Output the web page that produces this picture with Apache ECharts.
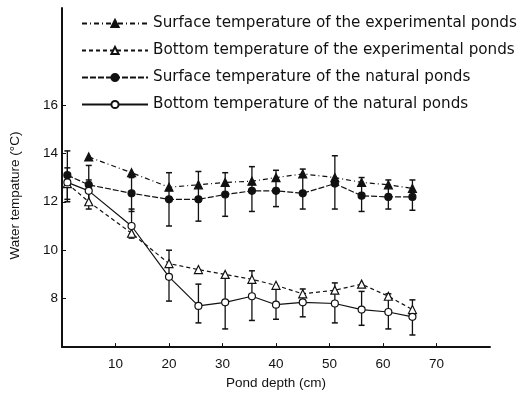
<!DOCTYPE html>
<html>
<head>
<meta charset="utf-8">
<script src="https://cdn.jsdelivr.net/npm/echarts@6/dist/echarts.min.js"></script>
<style>
  html, body { margin: 0; padding: 0; background: #fff; }
  #chart { width: 531px; height: 395px; }
</style>
</head>
<body>
<div id="chart"></div>
<script>
// pond depth (cm) of each sampling point
const depths = [1, 5, 13, 20, 25.5, 30.5, 35.5, 40, 45, 51, 56, 61, 65.5]

// water temperature (°C)
const surfaceExp = [null, 13.85, 13.2, 12.6, 12.7, 12.8, 12.85, 13.0, 13.15, 13.0, 12.8, 12.7, 12.55]
const bottomExp = [12.75, 12.0, 10.7, 9.45, 9.2, 9.0, 8.8, 8.55, 8.2, 8.35, 8.6, 8.1, 7.55]
const surfaceNat = [13.1, 12.7, 12.35, 12.1, 12.1, 12.3, 12.45, 12.45, 12.35, 12.75, 12.25, 12.2, 12.2]
const bottomNat = [12.8, 12.45, 11.0, 8.9, 7.7, 7.85, 8.1, 7.75, 7.85, 7.8, 7.55, 7.45, 7.25]

// error bar ends (low / high)
const surfaceNatLow = [12.0, 11.9, 11.6, 11.0, 11.2, 11.4, 11.6, 11.8, 11.7, 11.7, 11.6, 11.7, 11.65]
const surfaceNatHigh = [14.1, 13.5, 13.0, 13.2, 13.25, 13.2, 13.45, 13.3, 13.35, 13.9, 13.0, 12.9, 12.9]
const bottomNatLow = [12.1, 11.7, 10.5, 7.9, 7.0, 6.75, 7.1, 7.15, 7.25, 7.0, 6.9, 6.75, 6.5]
const bottomNatHigh = [13.4, 12.9, 11.7, 10.0, 8.6, 8.85, 9.15, 8.5, 8.4, 8.65, 8.3, 8.2, 7.95]

const xTicks = [10, 20, 30, 40, 50, 60, 70]
const yTicks = [8, 10, 12, 14, 16]

const seriesNames = [
  'Surface temperature of the experimental ponds',
  'Bottom temperature of the experimental ponds',
  'Surface temperature of the natural ponds',
  'Bottom temperature of the natural ponds'
]

const font = 'Liberation Sans'
const ink = '#111'

const pairs = ys => depths.map((d, i) => [d, ys[i]])
const bars = (lo, hi) => depths.map((d, i) => [d, lo[i], hi[i]])

const chart = echarts.init(document.getElementById('chart'))

// 误差棒
const errorBar = (name, data) => ({
  type: 'custom',
  name: name,
  data: data,
  z: 1,
  silent: true,
  renderItem: (params, api) => {
    const x = api.value(0)
    const top = api.coord([x, api.value(2)])
    const bot = api.coord([x, api.value(1)])
    const cap = 3
    return {
      type: 'group',
      children: [
        { type: 'line', shape: { x1: top[0], y1: top[1], x2: bot[0], y2: bot[1] }, style: { stroke: ink, lineWidth: 1.3 } },
        { type: 'line', shape: { x1: top[0] - cap, y1: top[1], x2: top[0] + cap, y2: top[1] }, style: { stroke: ink, lineWidth: 1.5 } },
        { type: 'line', shape: { x1: bot[0] - cap, y1: bot[1], x2: bot[0] + cap, y2: bot[1] }, style: { stroke: ink, lineWidth: 1.5 } }
      ]
    }
  }
})

const lineSeries = (name, ys, symbol, filled, dash, size) => ({
  type: 'line',
  name: name,
  data: pairs(ys),
  z: 3,
  symbol: symbol,
  symbolSize: size,
  showAllSymbol: true,
  connectNulls: false,
  itemStyle: {
    color: filled ? ink : '#fff',
    borderColor: ink,
    borderWidth: 1.2
  },
  lineStyle: { color: ink, width: 1.2, type: dash }
})

const option = {
  backgroundColor: '#fff',
  animation: false,
  textStyle: { fontFamily: font },
  grid: { left: 62, right: 41, top: 8, bottom: 47 },
  legend: {
    data: seriesNames,
    orient: 'vertical',
    left: 76,
    top: 11,
    itemGap: 12,
    itemWidth: 66,
    itemHeight: 9,
    textStyle: { fontFamily: 'DejaVu Sans', fontSize: 15.2, color: ink }
  },
  xAxis: {
    type: 'value',
    min: 0,
    max: 80,
    name: 'Pond depth (cm)',
    nameLocation: 'middle',
    nameGap: 28,
    nameTextStyle: { fontSize: 13.5, color: ink },
    axisLine: { lineStyle: { color: ink, width: 2 } },
    axisTick: { inside: true, length: 4, customValues: xTicks, lineStyle: { color: ink } },
    axisLabel: { customValues: xTicks, fontSize: 13.5, color: ink, margin: 10 },
    splitLine: { show: false }
  },
  yAxis: {
    type: 'value',
    min: 6,
    max: 20,
    name: 'Water tempature (°C)',
    nameLocation: 'middle',
    nameGap: 40,
    nameRotate: 90,
    nameTextStyle: { fontSize: 13.5, color: ink, padding: [0, 0, 0, -36] },
    axisLine: { lineStyle: { color: ink, width: 2 } },
    axisTick: { inside: true, length: 4, customValues: yTicks, lineStyle: { color: ink } },
    axisLabel: { customValues: yTicks, fontSize: 13.5, color: ink, margin: 4 },
    splitLine: { show: false }
  },
  series: [
    errorBar('err-surface', bars(surfaceNatLow, surfaceNatHigh)),
    errorBar('err-bottom', bars(bottomNatLow, bottomNatHigh)),
    lineSeries(seriesNames[0], surfaceExp, 'triangle', true, [5, 3, 1, 3], 8),
    lineSeries(seriesNames[1], bottomExp, 'triangle', false, [4, 3], 8),
    lineSeries(seriesNames[2], surfaceNat, 'circle', true, [6, 2], 7),
    lineSeries(seriesNames[3], bottomNat, 'circle', false, 'solid', 7)
  ]
}

chart.setOption(option)
</script>
</body>
</html>
